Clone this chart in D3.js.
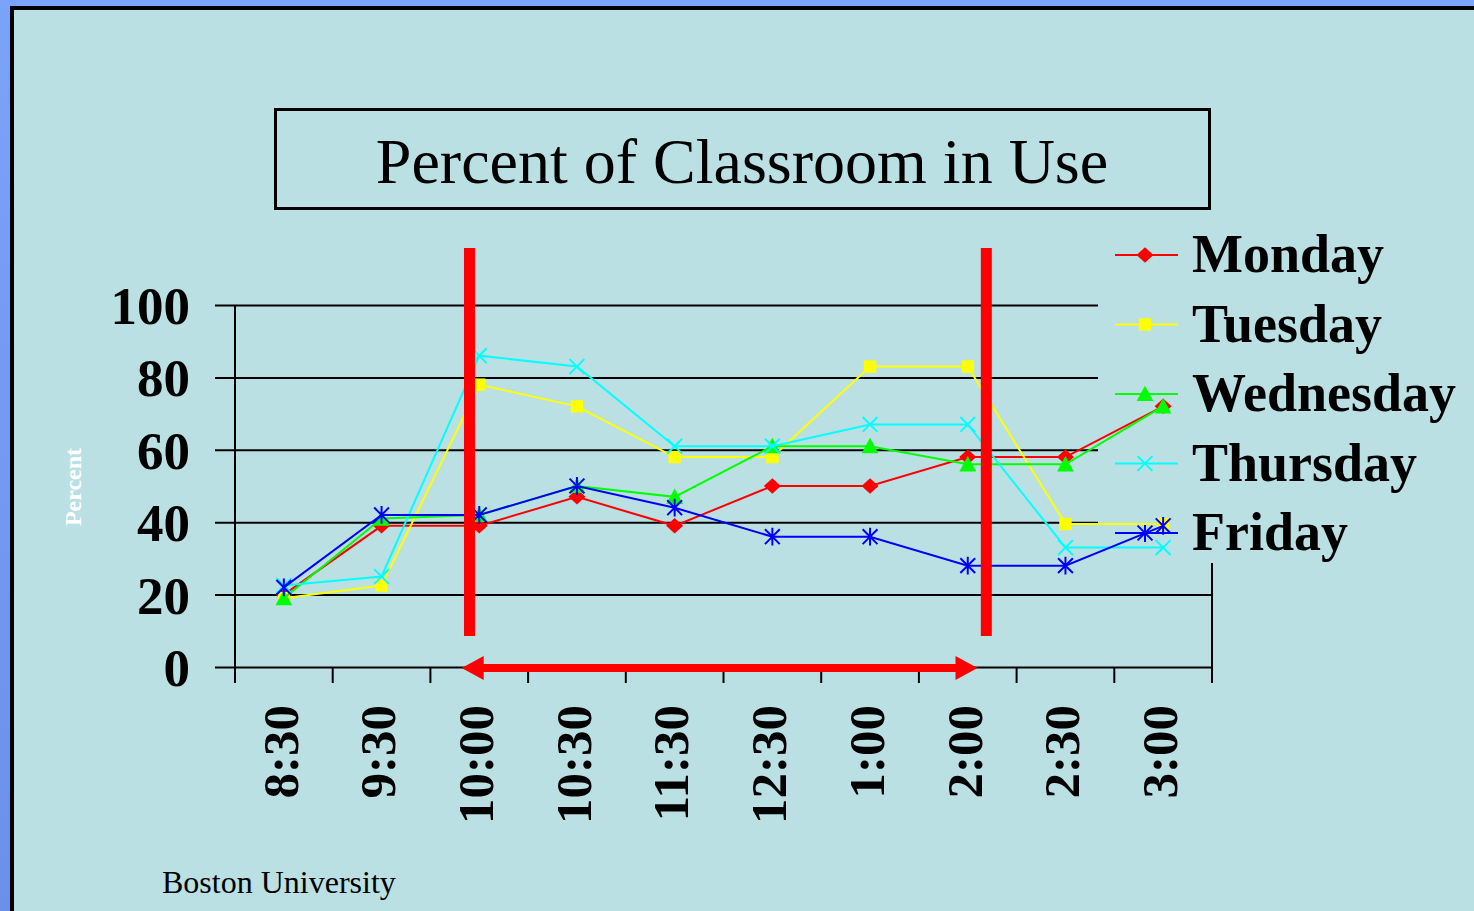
<!DOCTYPE html>
<html>
  <head>
    <meta charset="utf-8" />
    <script src="https://cdn.jsdelivr.net/npm/d3@7"></script>
    <style>
        body { margin: 0; overflow: hidden; background: #78a0f8; }
        text { font-family: "Liberation Serif", "Times New Roman", serif; }
        .ylab, .xlab, .leg { font-weight: bold; }
    </style>
  </head>
  <body>
    <script type="text/javascript">

        // data
        var categories = ["8:30", "9:30", "10:00", "10:30", "11:30", "12:30", "1:00", "2:00", "2:30", "3:00"];
        var monday    = [20, 39, 39, 47, 39, 50, 50, 58, 58, 72];
        var tuesday   = [19, 22.5, 78, 72, 58, 58, 83, 83, 39.5, 39.5];
        var wednesday = [19, 41, 42, 50, 47, 61, 61, 56, 56, 72];
        var thursday  = [22.5, 25, 86, 83, 61, 61, 67, 67, 33, 33];
        var friday    = [22, 42, 42, 50, 44, 36, 36, 28, 28, 39];
        var seriesNames = ["Monday", "Tuesday", "Wednesday", "Thursday", "Friday"];
        var yTicks = [0, 20, 40, 60, 80, 100];
        // red markers, in category-index units
        var markStart = 1.9, markEnd = 7.19;
        var arrowStart = 1.82, arrowEnd = 7.1;

        var W = 1474, H = 911;
        var bg = "#bae0e3";

        var svg = d3.select("body").append("svg")
            .attr("width", W)
            .attr("height", H);

        var defs = svg.append("defs");
        var grad = defs.append("linearGradient").attr("id", "frame")
            .attr("x1", 0).attr("y1", 0).attr("x2", 0).attr("y2", 1);
        grad.append("stop").attr("offset", "0%").attr("stop-color", "#7aa3fa");
        grad.append("stop").attr("offset", "100%").attr("stop-color", "#6a90ec");

        svg.append("rect").attr("width", W).attr("height", H).attr("fill", "url(#frame)");
        svg.append("rect")
            .attr("x", 12).attr("y", 8)
            .attr("width", W + 20).attr("height", H + 20)
            .attr("fill", bg)
            .attr("stroke", "#000")
            .attr("stroke-width", 4);

        // title box
        svg.append("rect")
            .attr("x", 275.5).attr("y", 109.5)
            .attr("width", 934).attr("height", 99)
            .attr("fill", "none")
            .attr("stroke", "#000")
            .attr("stroke-width", 3);
        svg.append("text")
            .attr("x", 742).attr("y", 183)
            .attr("text-anchor", "middle")
            .style("font-size", "64px")
            .text("Percent of Classroom in Use");

        var plotL = 235, plotR = 1212, plotT = 305, plotB = 667;

        var x = d3.scaleBand().domain(categories).range([plotL, plotR]).padding(0);
        var cx = function(c) { return x(c) + x.bandwidth() / 2; };
        var xi = d3.scaleLinear().domain([0, categories.length - 1])
            .range([cx(categories[0]), cx(categories[categories.length - 1])]);
        var y = d3.scaleLinear().domain([0, 100]).range([plotB, plotT]);

        // gridlines + y labels
        var yAxis = d3.axisLeft(y)
            .tickValues(yTicks)
            .tickSize(-(plotR - 215))
            .tickPadding(25)
            .tickFormat(d3.format("d"));
        var gy = svg.append("g")
            .attr("transform", "translate(215,0)")
            .call(yAxis);
        gy.select(".domain").remove();
        gy.selectAll("line").attr("stroke", "#000").attr("stroke-width", 2);
        gy.selectAll("text")
            .attr("class", "ylab")
            .attr("fill", "#000")
            .style("font-size", "53px")
            .attr("dy", "0.35em");

        // axes lines
        svg.append("line")
            .attr("x1", plotL).attr("x2", plotL)
            .attr("y1", y(100)).attr("y2", plotB + 16)
            .attr("stroke", "#000").attr("stroke-width", 2);
        svg.append("line")
            .attr("x1", plotR).attr("x2", plotR)
            .attr("y1", y(100)).attr("y2", plotB + 16)
            .attr("stroke", "#000").attr("stroke-width", 2);

        var bounds = categories.map(function(c) { return x(c); }).concat([plotR]);
        svg.append("g").selectAll("line")
            .data(bounds)
            .enter().append("line")
            .attr("x1", function(d) { return d; })
            .attr("x2", function(d) { return d; })
            .attr("y1", plotB)
            .attr("y2", plotB + 16)
            .attr("stroke", "#000").attr("stroke-width", 2);

        svg.append("g").selectAll("text")
            .data(categories)
            .enter().append("text")
            .attr("class", "xlab")
            .attr("transform", function(d) { return "translate(" + cx(d) + ",705) rotate(-90)"; })
            .attr("text-anchor", "end")
            .attr("dy", "0.27em")
            .style("font-size", "51px")
            .text(function(d) { return d; });

        // y title
        svg.append("text")
            .attr("transform", "translate(81,487) rotate(-90)")
            .attr("text-anchor", "middle")
            .attr("fill", "#fff")
            .style("font-size", "24px")
            .style("font-weight", "bold")
            .text("Percent");

        svg.append("text")
            .attr("x", 162).attr("y", 893)
            .style("font-size", "32px")
            .text("Boston University");

        // legend box (covers the gridlines)
        svg.append("rect")
            .attr("x", 1098).attr("y", 222)
            .attr("width", W - 1098).attr("height", 341)
            .attr("fill", bg);

        // marker shapes
        var diamond = { draw: function(ctx, s) {
            var r = Math.sqrt(s) / 2;
            ctx.moveTo(0, -r); ctx.lineTo(r * 1.1, 0); ctx.lineTo(0, r); ctx.lineTo(-r * 1.1, 0); ctx.closePath();
        } };
        var square = { draw: function(ctx, s) {
            var r = Math.sqrt(s) / 2 * 0.8;
            ctx.rect(-r, -r, 2 * r, 2 * r);
        } };
        var triangle = { draw: function(ctx, s) {
            var r = Math.sqrt(s) / 2;
            ctx.moveTo(0, -r); ctx.lineTo(r, r * 0.85); ctx.lineTo(-r, r * 0.85); ctx.closePath();
        } };
        var cross = { draw: function(ctx, s) {
            var r = Math.sqrt(s) / 2;
            ctx.moveTo(-r, -r); ctx.lineTo(r, r); ctx.moveTo(r, -r); ctx.lineTo(-r, r);
        } };
        var star = { draw: function(ctx, s) {
            var r = Math.sqrt(s) / 2;
            ctx.moveTo(-r, -r); ctx.lineTo(r, r); ctx.moveTo(r, -r); ctx.lineTo(-r, r);
            ctx.moveTo(0, -r * 1.2); ctx.lineTo(0, r * 1.2);
        } };

        var series = [
            { name: seriesNames[0], values: monday,    color: "#ff0000", shape: diamond,  fill: true,  size: 240 },
            { name: seriesNames[1], values: tuesday,   color: "#ffff00", shape: square,   fill: true,  size: 240 },
            { name: seriesNames[2], values: wednesday, color: "#00ff00", shape: triangle, fill: true,  size: 280 },
            { name: seriesNames[3], values: thursday,  color: "#00ffff", shape: cross,    fill: false, size: 220 },
            { name: seriesNames[4], values: friday,    color: "#0000ff", shape: star,     fill: false, size: 220 }
        ];

        var line = d3.line()
            .x(function(d, i) { return cx(categories[i]); })
            .y(function(d) { return y(d); });

        function drawMarker(sel, s) {
            sel.attr("d", d3.symbol().type(s.shape).size(s.size))
                .attr("fill", s.fill ? s.color : "none")
                .attr("stroke", s.color)
                .attr("stroke-width", s.fill ? 0 : 2);
        }

        // legend
        var leg = svg.append("g").selectAll("g")
            .data(series)
            .enter().append("g")
            .attr("transform", function(d, i) { return "translate(0," + (255 + i * 69.5) + ")"; });
        leg.append("line")
            .attr("x1", 1115).attr("x2", 1178)
            .attr("stroke", function(d) { return d.color; })
            .attr("stroke-width", 2);
        leg.each(function(d) {
            d3.select(this).append("path")
                .attr("transform", "translate(1145,0)")
                .call(drawMarker, d);
        });
        leg.append("text")
            .attr("class", "leg")
            .attr("x", 1192).attr("y", 17)
            .style("font-size", "54px")
            .text(function(d) { return d.name; });

        // series
        series.forEach(function(s) {
            var g = svg.append("g");
            g.append("path")
                .datum(s.values)
                .attr("d", line)
                .attr("fill", "none")
                .attr("stroke", s.color)
                .attr("stroke-width", 2);
            g.selectAll("path.pt")
                .data(s.values)
                .enter().append("path")
                .attr("class", "pt")
                .attr("transform", function(d, i) { return "translate(" + cx(categories[i]) + "," + y(d) + ")"; })
                .call(drawMarker, s);
        });

        // red annotation bars
        svg.append("g").selectAll("rect")
            .data([markStart, markEnd])
            .enter().append("rect")
            .attr("x", function(d) { return xi(d) - 5.5; })
            .attr("y", 248)
            .attr("width", 11)
            .attr("height", 388)
            .attr("fill", "#ff0000");

        // double arrow
        var a0 = xi(arrowStart), a1 = xi(arrowEnd), ay = plotB + 1;
        svg.append("rect")
            .attr("x", a0 + 15).attr("y", ay - 4)
            .attr("width", a1 - a0 - 30).attr("height", 8)
            .attr("fill", "#ff0000");
        svg.append("path")
            .attr("d", "M" + a0 + "," + ay + "L" + (a0 + 22) + "," + (ay - 12) + "L" + (a0 + 22) + "," + (ay + 12) + "Z")
            .attr("fill", "#ff0000");
        svg.append("path")
            .attr("d", "M" + a1 + "," + ay + "L" + (a1 - 22) + "," + (ay - 12) + "L" + (a1 - 22) + "," + (ay + 12) + "Z")
            .attr("fill", "#ff0000");

    </script>
  </body>
</html>
